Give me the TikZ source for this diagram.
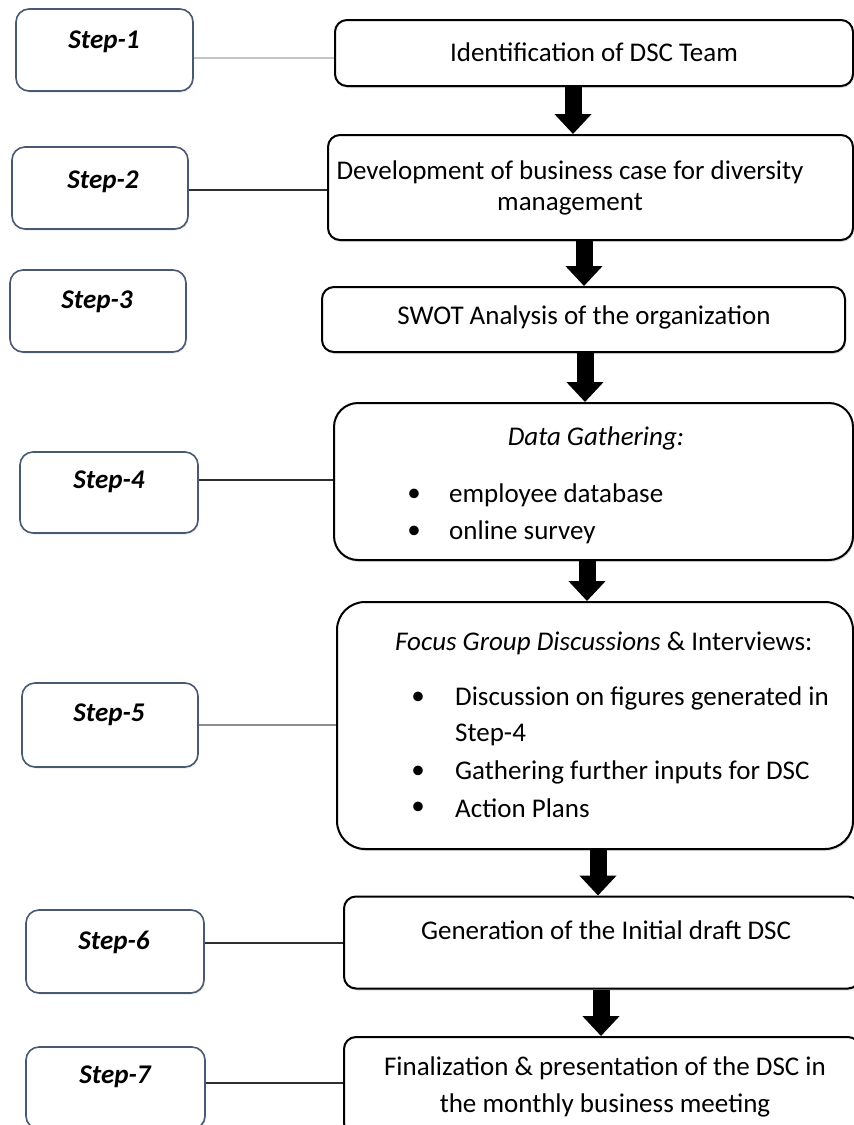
\documentclass[tikz,border=0pt]{standalone}
\usepackage{fontspec}
\setmainfont{Carlito}
\usetikzlibrary{arrows.meta,shadows}
\definecolor{stepblue}{HTML}{4A5872}
\definecolor{connlight}{HTML}{C4C4C4}
\definecolor{connmid}{HTML}{8E8E8E}
\definecolor{conndark}{HTML}{2E2E2E}
\begin{document}
\begin{tikzpicture}[x=1pt,y=-1pt,
  stepbox/.style={draw=stepblue, line width=1.6pt, rounded corners=13pt, fill=white, inner sep=0pt,
    drop shadow={opacity=0.18, shadow xshift=1pt, shadow yshift=-1.5pt}},
  steptext/.style={font=\fontsize{27}{31}\selectfont\bfseries\itshape, inner sep=0pt},
  mainbox/.style={draw=black, line width=2pt, rounded corners=12pt, fill=white, inner sep=0pt,
    drop shadow={opacity=0.25, shadow xshift=1pt, shadow yshift=-2pt}},
  bigbox/.style={mainbox, rounded corners=24pt},
  maintext/.style={font=\fontsize{27}{31}\selectfont, inner sep=0pt},
  listtext/.style={maintext, anchor=west},
  bul/.style={maintext},
  bigarrow/.style={draw=black, line width=17pt, -{Triangle[width=36pt,length=20pt]}},
  connd/.style={draw=conndark, line width=1.8pt},
  connl/.style={draw=connlight, line width=1.6pt},
  connm/.style={draw=connmid, line width=1.6pt}
]
\useasboundingbox (0,0) rectangle (854,1125);
\fill[white] (0,0) rectangle (854,1125);

% step boxes
\node[stepbox, minimum width=177pt, minimum height=82pt] (s1) at (104.5,50) {};
\node[stepbox, minimum width=176pt, minimum height=82pt] (s2) at (100,188) {};
\node[stepbox, minimum width=176pt, minimum height=82pt] (s3) at (98,311) {};
\node[stepbox, minimum width=178pt, minimum height=81pt] (s4) at (109,492.5) {};
\node[stepbox, minimum width=176pt, minimum height=84pt] (s5) at (110,725) {};
\node[stepbox, minimum width=178pt, minimum height=83pt] (s6) at (115,951.5) {};
\node[stepbox, minimum width=179pt, minimum height=82pt] (s7) at (115.5,1088) {};

\node[steptext] (st1) at (104,42) {Step-1};
\node[steptext] (st2) at (103,182) {Step-2};
\node[steptext] (st3) at (97,302) {Step-3};
\node[steptext] (st4) at (109,482) {Step-4};
\node[steptext] (st5) at (109,715) {Step-5};
\node[steptext] (st6) at (114,942) {Step-6};
\node[steptext] (st7) at (115,1077) {Step-7};

% main boxes
\node[mainbox, minimum width=518pt, minimum height=66pt] (m1) at (594,53) {};
\node[mainbox, minimum width=525pt, minimum height=105pt] (m2) at (590.5,187.5) {};
\node[mainbox, minimum width=523pt, minimum height=65pt] (m3) at (583.5,319.5) {};
\node[bigbox, minimum width=519pt, minimum height=157pt] (m4) at (593.5,481.5) {};
\node[bigbox, rounded corners=28pt, minimum width=516pt, minimum height=247pt] (m5) at (595,725.5) {};
\node[mainbox, minimum width=516pt, minimum height=92pt] (m6) at (602,942.5) {};
\node[mainbox, minimum width=516pt, minimum height=98pt] (m7) at (602,1086) {};

% main texts
\node[maintext] (t1) at (594,52) {Identification of DSC Team};
\node[maintext, align=center] (t2) at (570,187.5) {Development of business case for diversity\\management};
\node[maintext] (t3) at (584,317) {SWOT Analysis of the organization};
\node[maintext] (t4) at (596,438) {\textit{Data Gathering:}};
\node[bul] (b41) at (414,495) {•};
\node[listtext] (t41) at (449,495) {employee database};
\node[bul] (b42) at (414,532) {•};
\node[listtext] (t42) at (449,532) {online survey};
\node[listtext] (t5) at (395,643) {\textit{Focus Group Discussions} \& Interviews:};
\node[bul] (b51) at (418,698) {•};
\node[listtext] (t51) at (455,698) {Discussion on figures generated in};
\node[listtext] (t51b) at (455,735) {Step-4};
\node[bul] (b52) at (418,772) {•};
\node[listtext] (t52) at (455,772) {Gathering further inputs for DSC};
\node[bul] (b53) at (418,808) {•};
\node[listtext] (t53) at (455,808) {Action Plans};
\node[maintext] (t6) at (606,930) {Generation of the Initial draft DSC};
\node[maintext, align=center, font=\fontsize{27}{37}\selectfont] (t7) at (605,1086.5) {Finalization \& presentation of the DSC in\\the monthly business meeting};

% arrow x positions and connector y positions
\coordinate (a1) at (573,0);
\coordinate (a2) at (584,0);
\coordinate (a3) at (585,0);
\coordinate (a4) at (587,0);
\coordinate (a5) at (598,0);
\coordinate (a6) at (601,0);
\coordinate (c1) at (0,58);
\coordinate (c2) at (0,190);
\coordinate (c4) at (0,480);
\coordinate (c5) at (0,725);
\coordinate (c6) at (0,943);
\coordinate (c7) at (0,1083);

\draw[bigarrow] (m1.south -| a1) -- (m2.north -| a1);
\draw[bigarrow] (m2.south -| a2) -- (m3.north -| a2);
\draw[bigarrow] (m3.south -| a3) -- (m4.north -| a3);
\draw[bigarrow] (m4.south -| a4) -- (m5.north -| a4);
\draw[bigarrow] (m5.south -| a5) -- (m6.north -| a5);
\draw[bigarrow] (m6.south -| a6) -- (m7.north -| a6);

\draw[connl] (s1.east |- c1) -- (m1.west |- c1);
\draw[connd] (s2.east |- c2) -- (m2.west |- c2);
\draw[connd] (s4.east |- c4) -- (m4.west |- c4);
\draw[connm] (s5.east |- c5) -- (m5.west |- c5);
\draw[connd] (s6.east |- c6) -- (m6.west |- c6);
\draw[connd] (s7.east |- c7) -- (m7.west |- c7);
\end{tikzpicture}
\end{document}
